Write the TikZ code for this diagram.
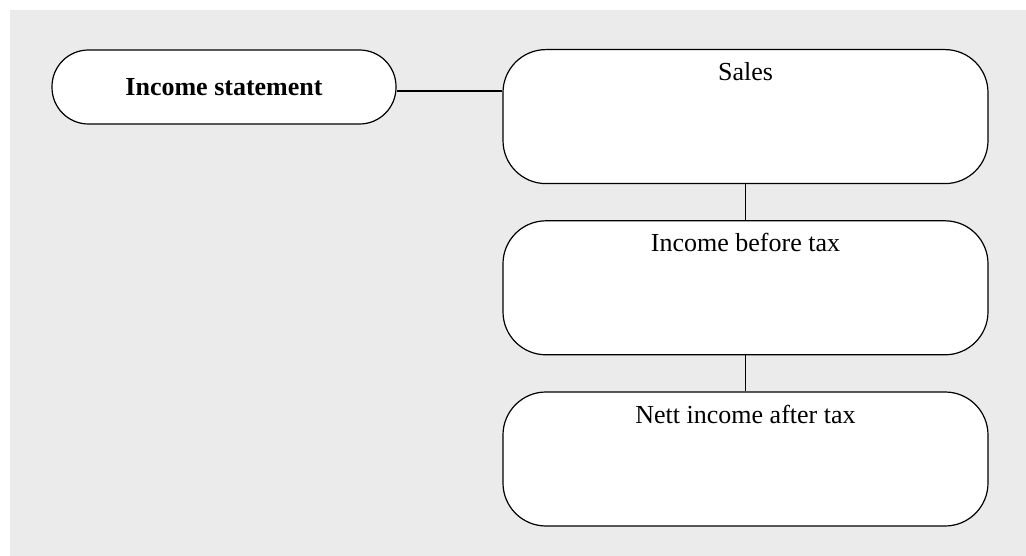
\documentclass[tikz,border=0pt]{standalone}
\usepackage{fontspec}
\setmainfont{Liberation Serif}
\usetikzlibrary{positioning}
\definecolor{panelgrey}{HTML}{EBEBEB}

\tikzset{
  headbox/.style={draw, fill=white, line width=1.2pt, rounded corners=36.5pt, minimum width=344pt, minimum height=74pt, font=\fontsize{26}{31}\selectfont\bfseries},
  stepbox/.style={draw, fill=white, line width=1.2pt, rounded corners=43pt, minimum width=485pt, inner sep=0pt, text height=31pt, text depth=103pt, font=\fontsize{26}{31}\selectfont},
  link/.style={line width=1.2pt}
}

\begin{document}
\begin{tikzpicture}
	\useasboundingbox (0,0) rectangle (1026pt,-556pt);
	\fill [panelgrey] (10pt,-10pt) rectangle (1026pt,-556pt);
	\node (statement) [headbox] at (224pt,-87pt) {Income statement};
	\node (sales) [stepbox, anchor=north] at (745.5pt,-49pt) {Sales};
	\node (pretax) [stepbox, below=36pt of sales] {Income before tax};
	\node (aftertax) [stepbox, below=36pt of pretax] {Nett income after tax};
	\draw [link] ([yshift=-4pt]statement.east) -- ([yshift=-4pt]statement.east -| sales.west);
	\draw [link] (sales) -- (pretax);
	\draw [link] (pretax) -- (aftertax);
\end{tikzpicture}
\end{document}
